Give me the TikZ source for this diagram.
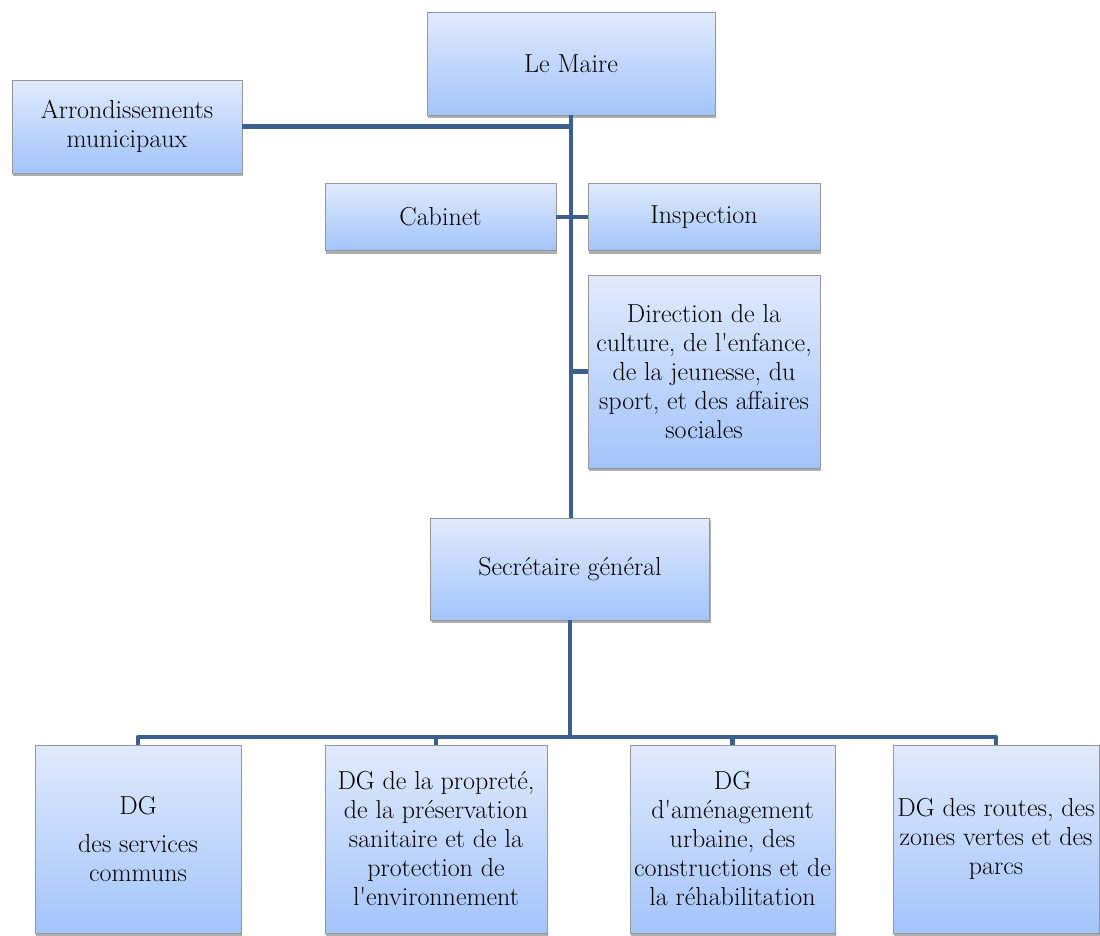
\documentclass[tikz,border=0pt]{standalone}
\usepackage{fontspec}
\definecolor{orgblue}{RGB}{59,96,143}
\definecolor{boxtop}{RGB}{224,234,252}
\definecolor{boxbot}{RGB}{163,196,250}
\definecolor{boxline}{RGB}{150,150,150}
\usetikzlibrary{shadows}
\tikzset{
  orgbox/.style={draw=boxline,line width=0.9pt,top color=boxtop,bottom color=boxbot,
    drop shadow={shadow xshift=1pt,shadow yshift=-3pt,fill=black!70,opacity=0.45},
    align=center,inner sep=2pt,font=\fontsize{26}{29}\selectfont},
  link/.style={orgblue,line width=4.5pt,line join=round}
}
\newcommand{\apos}{\textquotesingle}

\begin{document}
\begin{tikzpicture}[x=1pt,y=-1pt]
  \useasboundingbox (0,0) rectangle (1100,935);
  % boxes
  \node[orgbox,minimum width=288,minimum height=103] (maire) at (571,63.5) {Le Maire};
  \node[orgbox,minimum width=230,minimum height=93] (arr) at (127,126.5) {Arrondissements\\municipaux};
  \node[orgbox,minimum width=231,minimum height=67] (cab) at (440.5,217) {Cabinet};
  \node[orgbox,minimum width=232,minimum height=67] (insp) at (704,217) {Inspection};
  \node[orgbox,minimum width=232,minimum height=193] (dir) at (704,371.5)
    {Direction de la\\culture, de l\apos enfance,\\de la jeunesse, du\\sport, et des affaires\\sociales};
  \node[orgbox,minimum width=279,minimum height=102] (sg) at (570,569) {Secrétaire général};
  \node[orgbox,minimum width=206,minimum height=188] (dg1) at (138,839) {DG\\[9pt]des services\\communs};
  \node[orgbox,minimum width=222,minimum height=188] (dg2) at (436,839)
    {DG de la propreté,\\de la préservation\\sanitaire et de la\\protection de\\l\apos environnement};
  \node[orgbox,minimum width=205,minimum height=188] (dg3) at (732.5,839)
    {DG\\d\apos aménagement\\urbaine, des\\constructions et de\\la réhabilitation};
  \node[orgbox,minimum width=206,minimum height=188] (dg4) at (996,839)
    {DG des routes, des\\zones vertes et des\\parcs};
  % links
  \coordinate (bus) at (570,737);
  \draw[link] (maire.south) -- (maire.south |- sg.north);
  \draw[link] (arr.east) -- (arr.east -| maire.south);
  \draw[link] (cab.east) -- (insp.west);
  \draw[link] (dir.west) -- (dir.west -| maire.south);
  \draw[link] (sg.south) -- (bus);
  \draw[link] (dg1.north) -- (dg1.north |- bus) -- (dg4.north |- bus) -- (dg4.north);
  \foreach \n in {dg2,dg3}
    \draw[link] (\n.north) -- (\n.north |- bus);
\end{tikzpicture}
\end{document}
